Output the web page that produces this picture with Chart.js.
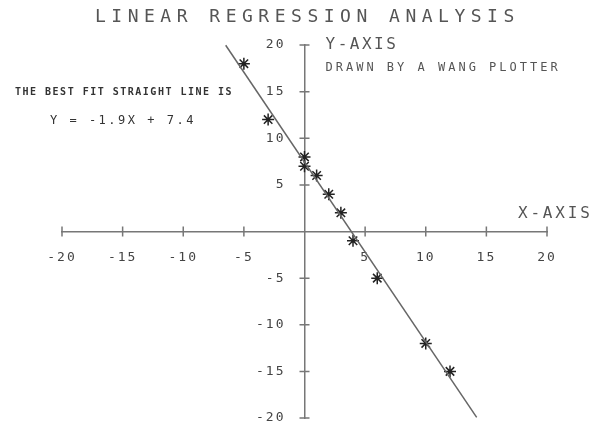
<!DOCTYPE html>
<html>
<head>
<meta charset="utf-8">
<script src="https://cdn.jsdelivr.net/npm/chart.js@4.4.0/dist/chart.umd.min.js"></script>
<style>
  html, body { margin: 0; padding: 0; background: #fff; }
</style>
</head>
<body>
<canvas id="regChart" width="598" height="428"></canvas>
<script>
// points as plotted
const xValues = [-5, -3, 0, 0, 1, 2, 3, 4, 6, 10, 12];
const yValues = [18, 12, 8, 7, 6, 4, 2, -1, -5, -12, -15];
// x where the plotter started and stopped the fitted line
const lineEnds = [-6.5, 14.2];
const tickValues = [-20, -15, -10, -5, 0, 5, 10, 15, 20];

const chartTitle = 'LINEAR REGRESSION ANALYSIS';
const fitCaption = 'THE BEST FIT STRAIGHT LINE IS';
const fitEquation = 'Y = -1.9X + 7.4';
const plotterNote = 'DRAWN BY A WANG PLOTTER';

// least squares fit of the points
function fitLine(xs, ys) {
  let n = xs.length, sx = 0, sy = 0, sxy = 0, sxx = 0;
  for (let i = 0; i < n; i++) {
    sx += xs[i]; sy += ys[i]; sxy += xs[i] * ys[i]; sxx += xs[i] * xs[i];
  }
  let slope = (n * sxy - sx * sy) / (n * sxx - sx * sx);
  return { slope: slope, icpt: (sy - slope * sx) / n };
}

const fit = fitLine(xValues, yValues);
const points = xValues.map((x, i) => ({ x: x, y: yValues[i] }));
const fitPoints = lineEnds.map(x => ({ x: x, y: fit.slope * x + fit.icpt }));

const monoFont = "'DejaVu Sans Mono', 'Liberation Mono', monospace";
const inkGray = '#555';

function drawText(ctx, txt, x, y, size, spacing, color, weight, align) {
  ctx.save();
  ctx.font = (weight || 'normal') + ' ' + size + 'px ' + monoFont;
  ctx.letterSpacing = spacing + 'px';
  ctx.fillStyle = color;
  ctx.textAlign = align || 'left';
  ctx.textBaseline = 'middle';
  ctx.fillText(txt, x, y);
  ctx.restore();
}

// plotter style: ticks cross the axes, wide lettering, notes
const plotterPlugin = {
  id: 'plotter',
  beforeDraw(chart) {
    chart.ctx.letterSpacing = '2px';
    // y labels sit on the axis line when the axis is centred, push them left
    const items = chart.scales.y.getLabelItems(chart.chartArea);
    if (!items._moved) {
      items.forEach(it => { it.options.translation[0] -= 19; });
      items._moved = true;
    }
  },
  afterDraw(chart) {
    const ctx = chart.ctx;
    const xs = chart.scales.x, ys = chart.scales.y;
    const x0 = xs.getPixelForValue(0), y0 = ys.getPixelForValue(0);
    ctx.letterSpacing = '0px';

    ctx.save();
    ctx.strokeStyle = '#777';
    ctx.lineWidth = 1.5;
    ctx.beginPath();
    tickValues.forEach(v => {
      if (v === 0) return;
      let px = xs.getPixelForValue(v);
      ctx.moveTo(px, y0 - 5); ctx.lineTo(px, y0 + 5);
      let py = ys.getPixelForValue(v);
      ctx.moveTo(x0 - 5, py); ctx.lineTo(x0 + 5, py);
    });
    ctx.stroke();
    ctx.restore();

    drawText(ctx, chartTitle, 95, 17, 18, 5.5, inkGray);
    drawText(ctx, 'Y-AXIS', x0 + 21, ys.getPixelForValue(20), 16, 2.5, inkGray);
    drawText(ctx, plotterNote, x0 + 21, 68, 12, 3, inkGray);
    drawText(ctx, 'X-AXIS', 518, 214, 16, 2.8, inkGray);
    drawText(ctx, fitCaption, 15, 92, 10, 1.5, '#333', 'bold');
    drawText(ctx, fitEquation, 50, 121, 12, 2.5, '#333');
  }
};

new Chart(document.getElementById('regChart'), {
  type: 'scatter',
  data: {
    datasets: [
      {
        label: 'fit',
        data: fitPoints,
        showLine: true,
        borderColor: '#666',
        borderWidth: 1.5,
        pointRadius: 0,
        clip: false
      },
      {
        label: 'observed',
        data: points,
        pointStyle: 'star',
        pointRadius: 6,
        borderColor: '#222',
        backgroundColor: '#222',
        borderWidth: 1.5,
        clip: false
      }
    ]
  },
  plugins: [plotterPlugin],
  options: {
    responsive: false,
    animation: false,
    events: [],
    devicePixelRatio: 1,
    layout: { padding: { left: 62, right: 51, top: 45, bottom: 10 } },
    plugins: {
      legend: { display: false },
      tooltip: { enabled: false }
    },
    scales: {
      x: {
        type: 'linear',
        min: -20,
        max: 20,
        position: { y: 0 },
        afterBuildTicks: s => { s.ticks = tickValues.map(v => ({ value: v })); },
        afterFit: s => { s.paddingLeft = 0; s.paddingRight = 0; },
        grid: { display: false },
        border: { display: true, color: '#777', width: 1.5 },
        ticks: {
          padding: 10,
          maxRotation: 0,
          autoSkip: false,
          color: '#444',
          font: { family: monoFont, size: 13 },
          callback: v => (v === 0 ? '' : String(v))
        }
      },
      y: {
        type: 'linear',
        min: -20,
        max: 20,
        position: { x: 0 },
        afterBuildTicks: s => { s.ticks = tickValues.map(v => ({ value: v })); },
        afterFit: s => { s.paddingTop = 0; s.paddingBottom = 0; },
        grid: { display: false },
        border: { display: true, color: '#777', width: 1.5 },
        ticks: {
          padding: 0,
          autoSkip: false,
          color: '#444',
          font: { family: monoFont, size: 13 },
          callback: v => (v === 0 ? '' : String(v))
        }
      }
    }
  }
});
</script>
</body>
</html>
